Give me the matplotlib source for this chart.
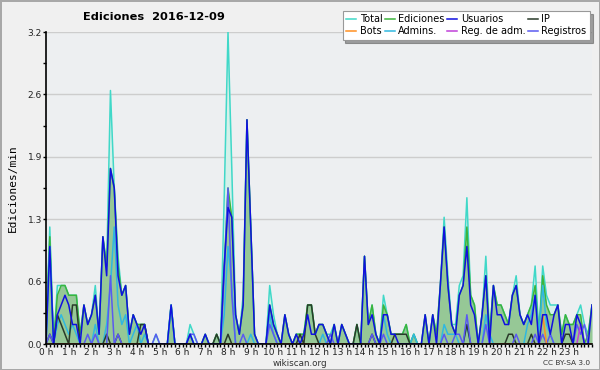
import numpy as np
import matplotlib
matplotlib.use("Agg")
import matplotlib.pyplot as plt
from matplotlib.ticker import FixedLocator, MultipleLocator

# edits per minute, 10-minute resolution, 0:00 .. 24:00
total = [0.1, 1.2, 0.0, 0.6, 0.6, 0.6, 0.5, 0.5, 0.5, 0.1, 0.4, 0.2,
         0.3, 0.6, 0.1, 1.1, 0.8, 2.6, 1.6, 0.9, 0.5, 0.6, 0.1, 0.3,
         0.2, 0.2, 0.2, 0.0, 0.0, 0.1, 0.0, 0.0, 0.0, 0.4, 0.0, 0.0,
         0.0, 0.0, 0.2, 0.1, 0.0, 0.0, 0.1, 0.0, 0.0, 0.1, 0.0, 1.5,
         3.2, 1.8, 0.3, 0.1, 0.5, 2.3, 1.2, 0.1, 0.0, 0.0, 0.0, 0.6,
         0.3, 0.1, 0.0, 0.3, 0.1, 0.0, 0.1, 0.1, 0.1, 0.4, 0.4, 0.1,
         0.2, 0.2, 0.1, 0.1, 0.2, 0.0, 0.2, 0.1, 0.0, 0.0, 0.2, 0.0,
         0.9, 0.2, 0.4, 0.1, 0.0, 0.5, 0.3, 0.1, 0.1, 0.1, 0.1, 0.2,
         0.0, 0.1, 0.0, 0.0, 0.3, 0.0, 0.3, 0.1, 0.6, 1.3, 0.7, 0.2,
         0.2, 0.6, 0.7, 1.5, 0.5, 0.4, 0.0, 0.3, 0.9, 0.1, 0.6, 0.4,
         0.4, 0.3, 0.2, 0.5, 0.7, 0.3, 0.2, 0.3, 0.4, 0.8, 0.1, 0.8,
         0.5, 0.4, 0.4, 0.4, 0.1, 0.3, 0.2, 0.2, 0.3, 0.4, 0.2, 0.1,
         0.4]

ediciones = [0.1, 1.1, 0.0, 0.5, 0.6, 0.6, 0.5, 0.5, 0.5, 0.1, 0.4, 0.2,
             0.3, 0.5, 0.1, 1.1, 0.8, 1.8, 1.6, 0.8, 0.5, 0.6, 0.1, 0.3,
             0.2, 0.2, 0.2, 0.0, 0.0, 0.0, 0.0, 0.0, 0.0, 0.4, 0.0, 0.0,
             0.0, 0.0, 0.1, 0.0, 0.0, 0.0, 0.1, 0.0, 0.0, 0.1, 0.0, 0.8,
             1.6, 1.3, 0.3, 0.1, 0.4, 2.3, 1.2, 0.1, 0.0, 0.0, 0.0, 0.4,
             0.2, 0.1, 0.0, 0.3, 0.1, 0.0, 0.1, 0.1, 0.1, 0.4, 0.4, 0.1,
             0.2, 0.2, 0.1, 0.0, 0.2, 0.0, 0.2, 0.1, 0.0, 0.0, 0.2, 0.0,
             0.9, 0.2, 0.4, 0.1, 0.0, 0.4, 0.3, 0.1, 0.1, 0.1, 0.1, 0.2,
             0.0, 0.1, 0.0, 0.0, 0.3, 0.0, 0.3, 0.1, 0.6, 1.2, 0.6, 0.2,
             0.1, 0.5, 0.6, 1.2, 0.5, 0.4, 0.0, 0.3, 0.7, 0.1, 0.6, 0.4,
             0.4, 0.3, 0.2, 0.5, 0.6, 0.3, 0.2, 0.3, 0.4, 0.6, 0.1, 0.7,
             0.4, 0.3, 0.3, 0.4, 0.1, 0.3, 0.2, 0.2, 0.3, 0.3, 0.0, 0.1,
             0.4]

usuarios = [0.0, 1.0, 0.0, 0.3, 0.4, 0.5, 0.4, 0.2, 0.2, 0.0, 0.4, 0.2,
            0.3, 0.5, 0.1, 1.1, 0.7, 1.8, 1.6, 0.7, 0.5, 0.6, 0.1, 0.3,
            0.2, 0.1, 0.2, 0.0, 0.0, 0.0, 0.0, 0.0, 0.0, 0.4, 0.0, 0.0,
            0.0, 0.0, 0.1, 0.0, 0.0, 0.0, 0.1, 0.0, 0.0, 0.0, 0.0, 0.8,
            1.4, 1.3, 0.3, 0.1, 0.4, 2.3, 1.2, 0.1, 0.0, 0.0, 0.0, 0.4,
            0.2, 0.1, 0.0, 0.3, 0.1, 0.0, 0.1, 0.0, 0.1, 0.3, 0.1, 0.1,
            0.2, 0.2, 0.1, 0.0, 0.2, 0.0, 0.2, 0.1, 0.0, 0.0, 0.0, 0.0,
            0.9, 0.2, 0.3, 0.1, 0.0, 0.3, 0.3, 0.1, 0.1, 0.0, 0.0, 0.0,
            0.0, 0.0, 0.0, 0.0, 0.3, 0.0, 0.3, 0.0, 0.6, 1.2, 0.6, 0.2,
            0.1, 0.5, 0.6, 1.0, 0.4, 0.3, 0.0, 0.3, 0.7, 0.0, 0.6, 0.3,
            0.3, 0.2, 0.2, 0.5, 0.6, 0.3, 0.2, 0.3, 0.2, 0.5, 0.0, 0.3,
            0.3, 0.1, 0.3, 0.4, 0.0, 0.2, 0.2, 0.0, 0.3, 0.2, 0.0, 0.0,
            0.4]

ip = [0.0, 0.1, 0.0, 0.3, 0.2, 0.1, 0.0, 0.4, 0.4, 0.0, 0.0, 0.0,
      0.0, 0.0, 0.0, 0.0, 0.1, 0.0, 0.0, 0.1, 0.0, 0.0, 0.0, 0.0,
      0.0, 0.2, 0.2, 0.0, 0.0, 0.0, 0.0, 0.0, 0.0, 0.0, 0.0, 0.0,
      0.0, 0.0, 0.0, 0.0, 0.0, 0.0, 0.0, 0.0, 0.0, 0.1, 0.0, 0.0,
      0.1, 0.0, 0.0, 0.0, 0.0, 0.0, 0.0, 0.0, 0.0, 0.0, 0.0, 0.0,
      0.0, 0.0, 0.0, 0.0, 0.0, 0.0, 0.0, 0.1, 0.0, 0.4, 0.4, 0.1,
      0.0, 0.0, 0.0, 0.0, 0.0, 0.0, 0.0, 0.0, 0.0, 0.0, 0.2, 0.0,
      0.0, 0.0, 0.1, 0.0, 0.0, 0.0, 0.0, 0.0, 0.1, 0.1, 0.1, 0.1,
      0.0, 0.0, 0.0, 0.0, 0.0, 0.0, 0.0, 0.0, 0.0, 0.0, 0.0, 0.0,
      0.0, 0.0, 0.0, 0.2, 0.0, 0.0, 0.0, 0.0, 0.0, 0.0, 0.0, 0.0,
      0.0, 0.0, 0.1, 0.1, 0.0, 0.0, 0.0, 0.0, 0.1, 0.0, 0.0, 0.0,
      0.0, 0.0, 0.0, 0.0, 0.0, 0.1, 0.1, 0.0, 0.0, 0.0, 0.0, 0.0,
      0.0]

admins = [0.0, 1.0, 0.0, 0.2, 0.3, 0.2, 0.1, 0.2, 0.1, 0.0, 0.0, 0.0,
          0.0, 0.2, 0.0, 0.0, 0.2, 0.6, 1.2, 0.4, 0.2, 0.3, 0.0, 0.1,
          0.2, 0.0, 0.1, 0.0, 0.0, 0.0, 0.0, 0.0, 0.0, 0.4, 0.0, 0.0,
          0.0, 0.0, 0.1, 0.0, 0.0, 0.0, 0.0, 0.0, 0.0, 0.0, 0.0, 0.3,
          1.0, 0.6, 0.0, 0.0, 0.0, 0.0, 0.1, 0.0, 0.0, 0.0, 0.0, 0.3,
          0.1, 0.0, 0.0, 0.0, 0.0, 0.0, 0.0, 0.0, 0.0, 0.0, 0.0, 0.0,
          0.0, 0.1, 0.0, 0.0, 0.0, 0.0, 0.0, 0.0, 0.0, 0.0, 0.0, 0.0,
          0.0, 0.0, 0.0, 0.0, 0.0, 0.3, 0.1, 0.0, 0.0, 0.0, 0.0, 0.0,
          0.0, 0.1, 0.0, 0.0, 0.0, 0.0, 0.0, 0.0, 0.0, 0.2, 0.1, 0.1,
          0.1, 0.0, 0.0, 0.2, 0.0, 0.0, 0.0, 0.0, 0.3, 0.1, 0.0, 0.0,
          0.0, 0.0, 0.0, 0.0, 0.0, 0.0, 0.0, 0.2, 0.3, 0.5, 0.1, 0.6,
          0.2, 0.1, 0.0, 0.0, 0.0, 0.0, 0.0, 0.0, 0.0, 0.0, 0.0, 0.0,
          0.0]

registros = [0.0, 0.1, 0.0, 0.0, 0.0, 0.0, 0.0, 0.0, 0.0, 0.0, 0.0, 0.1,
             0.0, 0.1, 0.0, 0.0, 0.0, 0.7, 0.0, 0.1, 0.0, 0.0, 0.0, 0.0,
             0.0, 0.0, 0.0, 0.0, 0.0, 0.1, 0.0, 0.0, 0.0, 0.0, 0.0, 0.0,
             0.0, 0.0, 0.1, 0.1, 0.0, 0.0, 0.0, 0.0, 0.0, 0.0, 0.0, 0.7,
             1.6, 0.5, 0.0, 0.0, 0.1, 0.0, 0.0, 0.0, 0.0, 0.0, 0.0, 0.2,
             0.1, 0.0, 0.0, 0.0, 0.0, 0.0, 0.0, 0.0, 0.0, 0.0, 0.0, 0.0,
             0.0, 0.0, 0.0, 0.1, 0.0, 0.0, 0.0, 0.0, 0.0, 0.0, 0.0, 0.0,
             0.0, 0.0, 0.1, 0.0, 0.0, 0.1, 0.0, 0.0, 0.0, 0.0, 0.0, 0.0,
             0.0, 0.0, 0.0, 0.0, 0.0, 0.0, 0.0, 0.0, 0.0, 0.1, 0.0, 0.0,
             0.1, 0.1, 0.0, 0.3, 0.0, 0.0, 0.0, 0.0, 0.2, 0.0, 0.0, 0.0,
             0.0, 0.0, 0.0, 0.0, 0.1, 0.0, 0.0, 0.0, 0.0, 0.1, 0.0, 0.1,
             0.0, 0.1, 0.0, 0.0, 0.0, 0.0, 0.0, 0.0, 0.2, 0.1, 0.2, 0.0,
             0.0]

bots = [0.0, 0.0, 0.0, 0.0, 0.0, 0.0, 0.0, 0.0, 0.0, 0.0, 0.0, 0.0,
        0.0, 0.0, 0.0, 0.0, 0.0, 0.0, 0.0, 0.0, 0.0, 0.0, 0.0, 0.0,
        0.0, 0.0, 0.0, 0.0, 0.0, 0.0, 0.0, 0.0, 0.0, 0.0, 0.0, 0.0,
        0.0, 0.0, 0.0, 0.0, 0.0, 0.0, 0.0, 0.0, 0.0, 0.0, 0.0, 0.0,
        0.0, 0.0, 0.0, 0.0, 0.0, 0.0, 0.0, 0.0, 0.0, 0.0, 0.0, 0.0,
        0.0, 0.0, 0.0, 0.0, 0.0, 0.0, 0.0, 0.0, 0.0, 0.0, 0.0, 0.0,
        0.0, 0.0, 0.0, 0.0, 0.0, 0.0, 0.0, 0.0, 0.0, 0.0, 0.0, 0.0,
        0.0, 0.0, 0.0, 0.0, 0.0, 0.0, 0.0, 0.0, 0.0, 0.0, 0.0, 0.0,
        0.0, 0.0, 0.0, 0.0, 0.0, 0.0, 0.0, 0.0, 0.0, 0.0, 0.0, 0.0,
        0.0, 0.0, 0.0, 0.0, 0.0, 0.0, 0.0, 0.0, 0.0, 0.0, 0.0, 0.0,
        0.0, 0.0, 0.0, 0.0, 0.0, 0.0, 0.0, 0.0, 0.0, 0.0, 0.0, 0.3,
        0.0, 0.0, 0.0, 0.0, 0.0, 0.0, 0.0, 0.0, 0.0, 0.0, 0.0, 0.0,
        0.0]

reg_adm = [0.0, 0.0, 0.0, 0.0, 0.0, 0.0, 0.0, 0.0, 0.0, 0.0, 0.0, 0.0,
           0.0, 0.0, 0.0, 0.0, 0.0, 0.0, 0.0, 0.0, 0.0, 0.0, 0.0, 0.0,
           0.0, 0.0, 0.0, 0.0, 0.0, 0.0, 0.0, 0.0, 0.0, 0.0, 0.0, 0.0,
           0.0, 0.0, 0.0, 0.0, 0.0, 0.0, 0.0, 0.0, 0.0, 0.0, 0.0, 0.0,
           0.0, 0.0, 0.0, 0.0, 0.0, 0.0, 0.0, 0.0, 0.0, 0.0, 0.0, 0.0,
           0.0, 0.0, 0.0, 0.0, 0.0, 0.0, 0.0, 0.0, 0.0, 0.0, 0.0, 0.0,
           0.0, 0.0, 0.0, 0.0, 0.0, 0.0, 0.0, 0.0, 0.0, 0.0, 0.0, 0.0,
           0.0, 0.0, 0.0, 0.0, 0.0, 0.0, 0.0, 0.0, 0.0, 0.0, 0.0, 0.0,
           0.0, 0.0, 0.0, 0.0, 0.0, 0.0, 0.0, 0.0, 0.0, 0.0, 0.0, 0.0,
           0.0, 0.0, 0.0, 0.0, 0.0, 0.0, 0.0, 0.0, 0.0, 0.0, 0.0, 0.0,
           0.0, 0.0, 0.0, 0.0, 0.0, 0.0, 0.0, 0.0, 0.0, 0.0, 0.0, 0.0,
           0.0, 0.0, 0.0, 0.0, 0.0, 0.0, 0.0, 0.0, 0.0, 0.2, 0.0, 0.0,
           0.0]

hour_labels = [f"{h} h" for h in range(24)]
ytick_values = [0.0, 0.64, 1.28, 1.92, 2.56, 3.2]
ytick_labels = ["0.0", "0.6", "1.3", "1.9", "2.6", "3.2"]

hours = np.arange(len(total)) / 6.0

fig = plt.figure(figsize=(6.0, 3.7), dpi=100, facecolor="#f0f0f0",
                 edgecolor="#a8a8a8", linewidth=2)
ax = fig.add_axes([46 / 600, 1 - 344 / 370, (592 - 46) / 600, (344 - 32) / 370])
ax.set_facecolor("#edeff1")

ax.fill_between(hours, total, 0, color="#d4f1ea", lw=0, zorder=1)
ax.fill_between(hours, ediciones, 0, color="#96c896", lw=0, zorder=2)

lw = 1.1
l_total, = ax.plot(hours, total, color="#40d8c8", lw=lw, zorder=3, label="Total")
l_ed, = ax.plot(hours, ediciones, color="#3cb43c", lw=lw, zorder=3, label="Ediciones")
l_adm, = ax.plot(hours, admins, color="#30b8e0", lw=lw, zorder=4, label="Admins.")
l_ip, = ax.plot(hours, ip, color="#2a3a2a", lw=lw, zorder=4, label="IP")
l_reg, = ax.plot(hours, registros, color="#5a5af0", lw=lw, zorder=4, label="Registros")
l_radm, = ax.plot(hours, reg_adm, color="#c040d8", lw=lw, zorder=4, label="Reg. de adm.")
l_bots, = ax.plot(hours, bots, color="#ff9020", lw=lw, zorder=4, label="Bots")
l_us, = ax.plot(hours, usuarios, color="#1010e0", lw=lw, zorder=5, label="Usuarios")

ax.set_xlim(0, 24)
ax.set_ylim(0, 3.2)
ax.xaxis.set_major_locator(FixedLocator(list(range(24))))
ax.set_xticklabels(hour_labels)
ax.xaxis.set_minor_locator(MultipleLocator(1 / 6))
ax.yaxis.set_major_locator(FixedLocator(ytick_values))
ax.set_yticklabels(ytick_labels)
ax.yaxis.set_minor_locator(FixedLocator([0.32, 0.96, 1.6, 2.24, 2.88]))
ax.tick_params(axis="both", which="major", direction="out", length=2.5, width=1,
               labelsize=6.5, pad=0.5, colors="black", labelcolor="#222222")
ax.tick_params(axis="both", which="minor", direction="out", length=2.5, width=1)
ax.grid(axis="y", which="major", color="#cdcdcd", lw=1)
ax.set_axisbelow(True)
for s in ["top", "right"]:
    ax.spines[s].set_visible(False)
for s in ["left", "bottom"]:
    ax.spines[s].set_linewidth(1.2)
    ax.spines[s].set_zorder(6)

ax.set_ylabel("Ediciones/min", family="DejaVu Sans Mono", fontsize=8, labelpad=7)

fig.text(154 / 600, 1 - 17 / 370, "Ediciones  2016-12-09", ha="center", va="center",
         fontsize=8.2, fontweight="bold")
fig.text(300 / 600, 1 - 363 / 370, "wikiscan.org", ha="center", va="center",
         fontsize=6.3, color="#333333")
fig.text(590 / 600, 1 - 363 / 370, "CC BY-SA 3.0", ha="right", va="center",
         fontsize=5.3, color="#333333")

handles = [l_total, l_bots, l_ed, l_adm, l_us, l_radm, l_ip, l_reg]
leg = fig.legend(handles=handles, labels=[h.get_label() for h in handles],
                 ncol=4, loc="upper right", bbox_to_anchor=(590 / 600, 1 - 11 / 370),
                 fontsize=7, frameon=True, fancybox=False, shadow=True,
                 handlelength=1.0, handletextpad=0.4, columnspacing=0.25,
                 labelspacing=0.2, borderpad=0.35, borderaxespad=0)
leg.get_frame().set_edgecolor("#999999")
leg.get_frame().set_linewidth(0.8)

fig.savefig("out.png", dpi=100, facecolor=fig.get_facecolor(), edgecolor=fig.get_edgecolor())
